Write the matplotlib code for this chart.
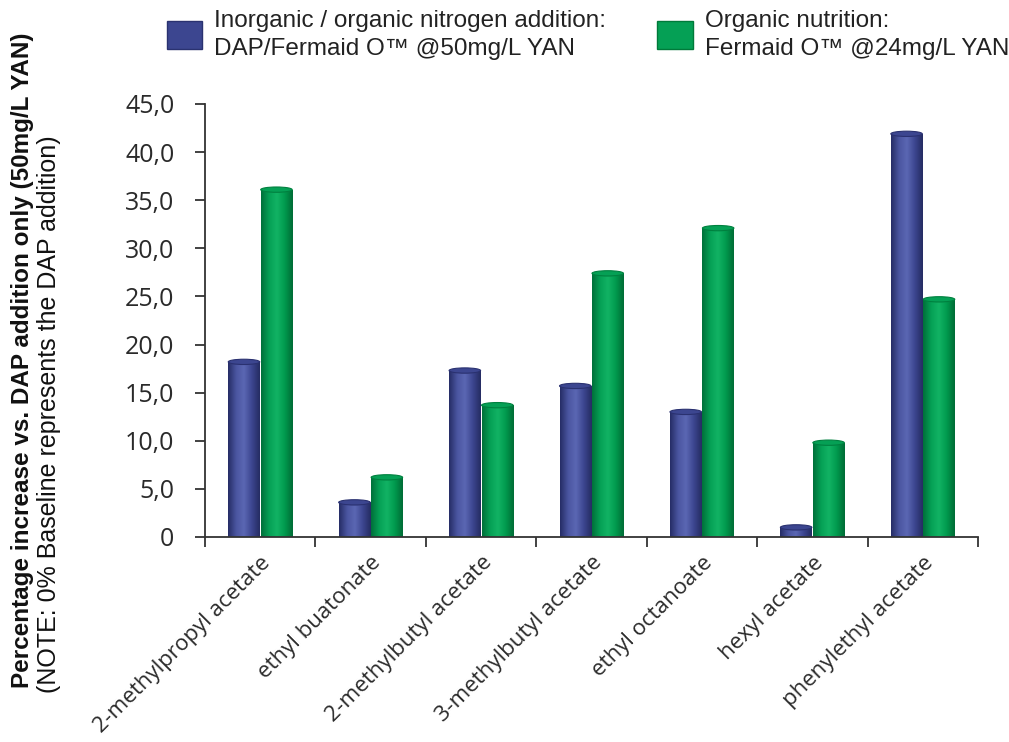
import numpy as np
import matplotlib
matplotlib.use("Agg")
import matplotlib.pyplot as plt
from matplotlib.colors import LinearSegmentedColormap
from matplotlib.patches import Patch, Ellipse
from matplotlib.ticker import FuncFormatter

# ester compounds on the x axis
compounds = ["2-methylpropyl acetate", "ethyl buatonate", "2-methylbutyl acetate",
             "3-methylbutyl acetate", "ethyl octanoate", "hexyl acetate",
             "phenylethyl acetate"]
# % increase vs. DAP-only baseline
dap_fermaid = [18.2, 3.6, 17.3, 15.7, 13.0, 1.0, 41.9]
fermaid_o = [36.1, 6.2, 13.7, 27.4, 32.1, 9.8, 24.7]
series_labels = ["Inorganic / organic nitrogen addition:\nDAP/Fermaid O\u2122 @50mg/L YAN",
                 "Organic nutrition:\nFermaid O\u2122 @24mg/L YAN"]
yticks = [0, 5, 10, 15, 20, 25, 30, 35, 40, 45]

blue_cm = LinearSegmentedColormap.from_list(
    "cyl_blue", ["#262d66", "#4a55a0", "#5b67b3", "#3c4690", "#252c62"])
green_cm = LinearSegmentedColormap.from_list(
    "cyl_green", ["#00703a", "#05a055", "#12b364", "#009a4e", "#006c36"])

fig = plt.figure(figsize=(10.09, 7.42), dpi=100)
ax = fig.add_axes([205 / 1009, 1 - 537 / 742, (978 - 205) / 1009, (537 - 104) / 742])

x = np.arange(len(compounds))
w = 0.285
off = 0.147
cap_h = 0.55  # cylinder cap height in data units
grad = np.linspace(0, 1, 64).reshape(1, -1)

for vals, shift, cm, col, edge in [(dap_fermaid, -off, blue_cm, "#3c4690", "#2a3170"),
                                   (fermaid_o, off, green_cm, "#05a055", "#00803f")]:
    bars = ax.bar(x + shift, vals, w, color=col, zorder=2)
    for b in bars:
        x0, y0 = b.get_x(), b.get_y()
        bw, bh = b.get_width(), b.get_height()
        im = ax.imshow(grad, cmap=cm, aspect="auto", interpolation="bicubic",
                       extent=(x0, x0 + bw, y0, y0 + bh), zorder=3)
        im.set_clip_path(b)
        # rounded top of the cylinder
        ax.add_patch(Ellipse((x0 + bw / 2, y0 + bh), bw, cap_h, facecolor=col,
                             edgecolor=edge, linewidth=0.8, zorder=4))

ax.set_xlim(-0.5, len(compounds) - 0.5)
ax.set_ylim(0, 45)

for s in ["top", "right"]:
    ax.spines[s].set_visible(False)
for s in ["left", "bottom"]:
    ax.spines[s].set_color("#333333")
    ax.spines[s].set_linewidth(1.3)
    ax.spines[s].set_zorder(5)

ax.set_yticks(yticks)
ax.yaxis.set_major_formatter(FuncFormatter(
    lambda v, p: "0" if v == 0 else f"{v:.1f}".replace(".", ",")))
ax.set_xticks(np.arange(len(compounds) + 1) - 0.5)
ax.set_xticklabels([])
ax.set_xticks(x, minor=True)
ax.set_xticklabels(compounds, minor=True, rotation=45, ha="right",
                   rotation_mode="anchor", family="Open Sans", fontsize=16,
                   color="#2a2a2a")
ax.tick_params(axis="x", which="minor", length=0, pad=11)
ax.tick_params(axis="x", which="major", length=7, width=1.3, color="#333333")
ax.tick_params(axis="y", length=7, width=1.3, color="#333333", pad=15,
               labelsize=18, labelcolor="#2a2a2a")
for t in ax.get_yticklabels():
    t.set_family("Open Sans")

fig.text(0.011, 1 - 688 / 742, "Percentage increase vs. DAP addition only (50mg/L YAN)",
         rotation=90, ha="left", va="bottom", fontsize=17.5, fontweight="bold",
         family="Liberation Sans", color="#111111")
fig.text(0.037, 1 - 693 / 742, "(NOTE: 0% Baseline represents the DAP addition)",
         rotation=90, ha="left", va="bottom", fontsize=18,
         family="Liberation Sans", color="#111111")

handles = [Patch(facecolor="#3c4690", edgecolor="#2a3270"),
           Patch(facecolor="#05a055", edgecolor="#007a3a")]
leg = fig.legend(handles, series_labels, ncol=2, loc="upper left",
                 bbox_to_anchor=(150 / 1009, 1.01), frameon=False,
                 prop={"family": "Liberation Sans", "size": 17.5},
                 handlelength=1.45, handleheight=1.4, handletextpad=0.5,
                 columnspacing=2.1, borderaxespad=0.3, labelspacing=0.2)
for t in leg.get_texts():
    t.set_linespacing(1.35)
    t.set_color("#222222")

fig.savefig("out.png", dpi=100)
